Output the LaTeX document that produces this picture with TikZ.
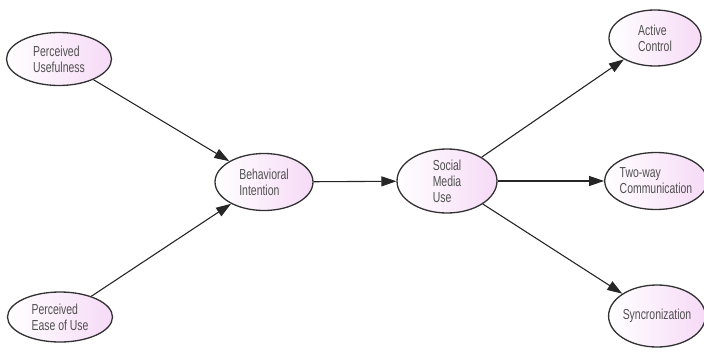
\documentclass[tikz,border=0pt]{standalone}
\usepackage{fontspec}
\usetikzlibrary{shapes.geometric,arrows.meta}
\newfontfamily\nodefont[FakeStretch=0.72]{Liberation Sans}
\definecolor{txtgray}{RGB}{80,80,80}
\definecolor{pinkfill}{RGB}{246,218,246}
\definecolor{edgegray}{RGB}{50,50,50}
\begin{document}
\begin{tikzpicture}[x=1pt,y=-1pt,
  construct/.style={ellipse,draw=edgegray,line width=1.3pt,left color=white,right color=pinkfill,
    minimum width=#1,inner sep=0pt,font=\nodefont\fontsize{14.5}{16}\selectfont,text=txtgray,align=left},
  construct/.default=100pt,
  link/.style={draw=black!85,line width=1.1pt,-{Triangle[length=15pt,width=10pt]}}]
\useasboundingbox (0,0) rectangle (704,351);
\node[construct=105pt,minimum height=53pt] (pu) at (59,59) {Perceived\\Usefulness};
\node[construct=105pt,minimum height=50pt] (peu) at (60,317) {Perceived\\Ease of Use};
\node[construct=98pt,minimum height=57pt] (bi) at (264,182) {Behavioral\\Intention};
\node[construct=100pt,minimum height=64pt] (smu) at (447,181) {Social\\Media\\Use};
\node[construct=92pt,minimum height=56pt] (ac) at (655,38) {Active\\Control};
\node[construct=92pt,minimum height=57pt] (tw) at (656,181) {Two-way\\Communication};
\node[construct=90pt,minimum height=62pt] (sy) at (657,316) {Syncronization};
\draw[link] (pu) -- (bi);
\draw[link] (peu) -- (bi);
\draw[link] (bi) -- (smu);
\draw[link] (smu) -- (ac);
\draw[link] (smu) -- (tw);
\draw[link] (smu) -- (sy);
\end{tikzpicture}
\end{document}
